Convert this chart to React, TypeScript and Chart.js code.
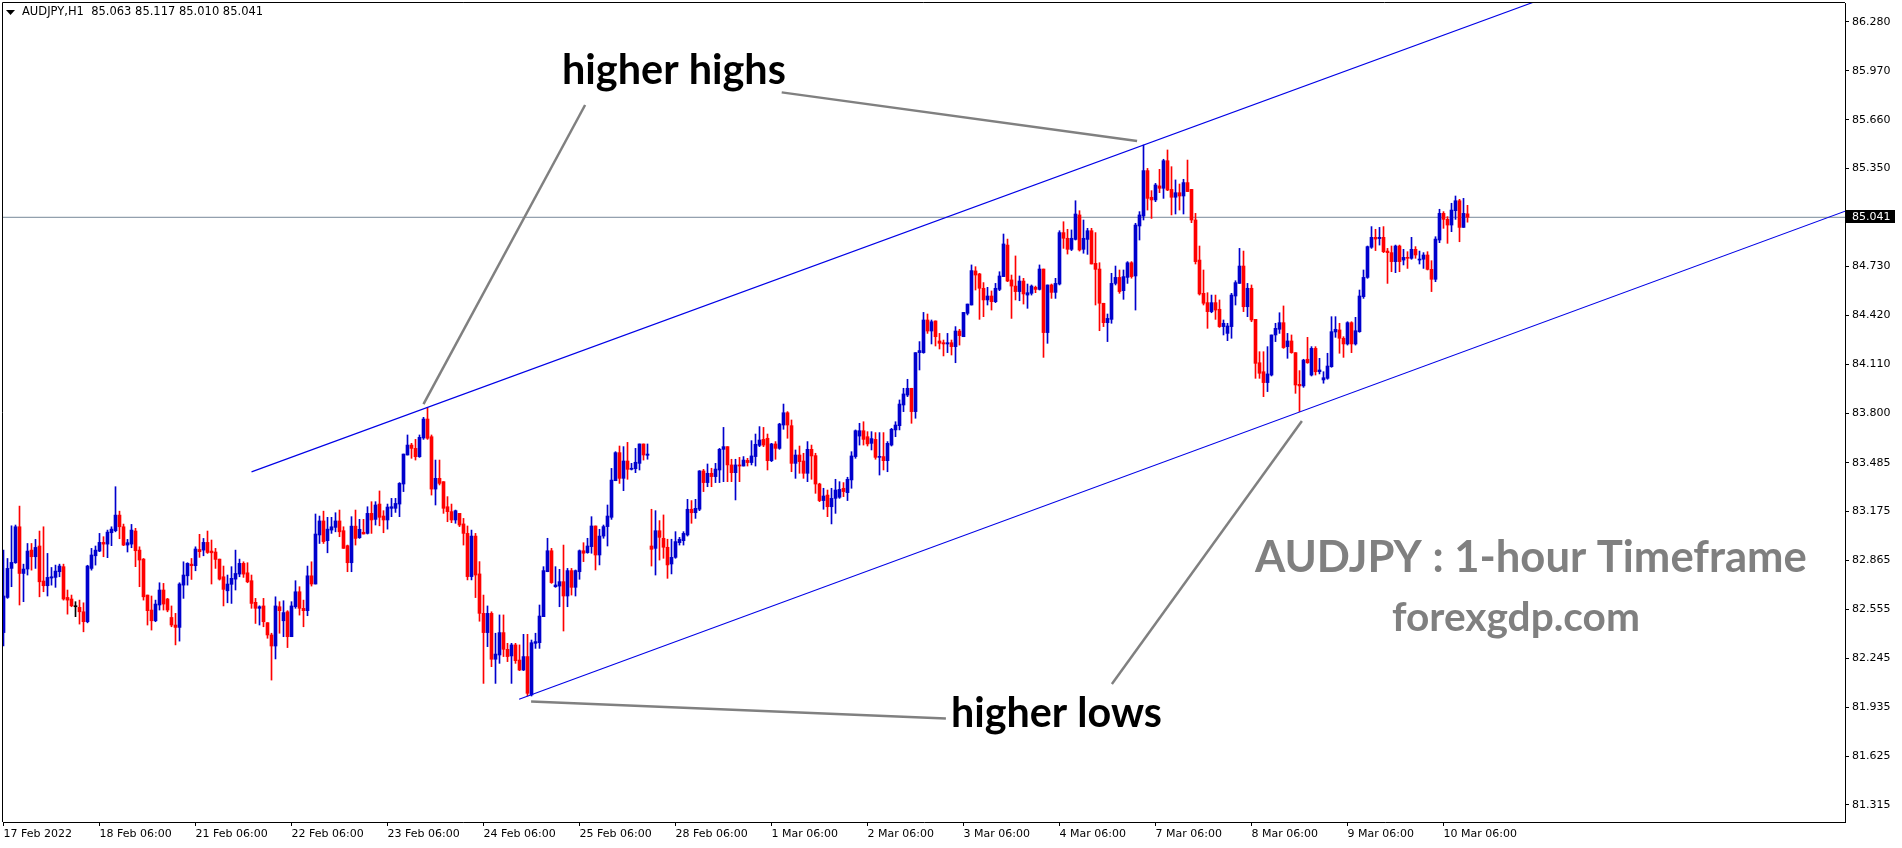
import React, { useEffect, useRef } from "react";
import { Chart, registerables } from "chart.js";

Chart.register(...registerables);

// ---- AUDJPY H1 candles (17 Feb 2022 06:00 .. 10 Mar 2022 12:00) ----
const opens = [
  82.408, 82.631, 82.815, 82.851, 83.079, 82.783, 82.811, 82.931, 82.889, 82.957,
  82.735, 82.705, 82.754, 82.758, 82.794, 82.826, 82.631, 82.621, 82.572, 82.568,
  82.540, 82.477, 82.815, 82.895, 82.925, 82.980, 82.969, 83.041, 83.054, 83.153,
  83.079, 82.963, 82.969, 83.052, 82.931, 82.874, 82.646, 82.551, 82.483, 82.583,
  82.678, 82.621, 82.504, 82.456, 82.441, 82.709, 82.768, 82.842, 82.832, 82.935,
  82.931, 82.980, 82.925, 82.919, 82.874, 82.762, 82.673, 82.714, 82.747, 82.779,
  82.847, 82.787, 82.737, 82.600, 82.562, 82.577, 82.471, 82.393, 82.323, 82.572,
  82.483, 82.540, 82.382, 82.572, 82.667, 82.562, 82.547, 82.768, 82.716, 83.027,
  83.116, 82.991, 83.058, 83.075, 83.116, 83.054, 82.959, 82.851, 83.083, 83.010,
  83.044, 83.037, 83.164, 83.126, 83.223, 83.147, 83.122, 83.196, 83.196, 83.223,
  83.350, 83.534, 83.597, 83.576, 83.523, 83.642, 83.762, 83.650, 83.318, 83.386,
  83.365, 83.206, 83.175, 83.122, 83.164, 83.097, 83.037, 82.763, 83.020, 82.780,
  82.530, 82.408, 82.530, 82.239, 82.266, 82.408, 82.302, 82.260, 82.330, 82.234,
  82.171, 82.256, 82.013, 82.340, 82.344, 82.509, 82.794, 82.927, 82.699, 82.703,
  82.731, 82.640, 82.801, 82.695, 82.794, 82.927, 82.915, 82.953, 83.084, 82.900,
  83.020, 83.080, 83.139, 83.371, 83.549, 83.386, 83.496, 83.443, 83.447, 83.481,
  83.604, 83.532, 82.957, 82.942, 83.054, 83.006, 82.949, 82.843, 82.885, 82.978,
  82.991, 83.027, 83.190, 83.168, 83.190, 83.433, 83.359, 83.418, 83.397, 83.439,
  83.570, 83.587, 83.471, 83.422, 83.471, 83.464, 83.500, 83.486, 83.524, 83.595,
  83.633, 83.640, 83.498, 83.604, 83.576, 83.724, 83.802, 83.720, 83.481, 83.534,
  83.496, 83.418, 83.570, 83.530, 83.350, 83.245, 83.280, 83.206, 83.259, 83.266,
  83.323, 83.295, 83.376, 83.524, 83.654, 83.688, 83.650, 83.608, 83.633, 83.519,
  83.524, 83.498, 83.597, 83.693, 83.720, 83.851, 83.914, 83.957, 83.809, 84.183,
  84.183, 84.390, 84.320, 84.384, 84.257, 84.246, 84.238, 84.246, 84.221, 84.320,
  84.284, 84.432, 84.485, 84.701, 84.682, 84.591, 84.517, 84.542, 84.506, 84.584,
  84.665, 84.865, 84.644, 84.605, 84.570, 84.637, 84.548, 84.559, 84.597, 84.584,
  84.713, 84.310, 84.612, 84.565, 84.618, 84.944, 84.908, 84.838, 84.901, 85.056,
  84.838, 84.901, 84.956, 84.749, 84.713, 84.496, 84.373, 84.394, 84.622, 84.660,
  84.576, 84.660, 84.753, 84.669, 84.986, 85.049, 85.337, 85.168, 85.151, 85.240,
  85.225, 85.400, 85.218, 85.168, 85.197, 85.176, 85.261, 85.218, 85.024, 84.770,
  84.559, 84.500, 84.443, 84.500, 84.458, 84.348, 84.305, 84.348, 84.542, 84.622,
  84.732, 84.474, 84.591, 84.394, 84.119, 84.062, 83.993, 84.041, 84.295, 84.331,
  84.373, 84.221, 84.257, 84.183, 83.982, 83.972, 84.141, 84.041, 84.210, 84.062,
  84.010, 84.020, 84.094, 84.314, 84.327, 84.274, 84.238, 84.373, 84.238, 84.316,
  84.538, 84.660, 84.851, 84.914, 84.906, 84.914, 84.827, 84.817, 84.760, 84.859,
  84.770, 84.787, 84.781, 84.838, 84.770, 84.775, 84.802, 84.711, 84.648, 84.897,
  85.066, 85.028, 84.992, 85.083, 85.146, 84.977, 85.063,
];

const highs = [
  82.931, 82.878, 83.085, 83.090, 83.210, 82.842, 82.973, 82.973, 82.999, 83.052,
  83.079, 82.910, 82.821, 82.836, 82.842, 82.842, 82.678, 82.646, 82.604, 82.614,
  82.597, 82.835, 82.942, 82.957, 83.037, 83.016, 83.058, 83.079, 83.333, 83.178,
  83.096, 82.999, 83.094, 83.069, 82.952, 82.878, 82.646, 82.640, 82.614, 82.724,
  82.720, 82.625, 82.577, 82.530, 82.724, 82.857, 82.851, 82.878, 82.952, 83.031,
  83.005, 83.052, 82.995, 82.942, 82.874, 82.830, 82.773, 82.826, 82.931, 82.874,
  82.857, 82.851, 82.773, 82.625, 82.578, 82.625, 82.471, 82.404, 82.635, 82.604,
  82.610, 82.547, 82.604, 82.737, 82.699, 82.614, 82.830, 82.857, 83.160, 83.147,
  83.178, 83.139, 83.139, 83.168, 83.185, 83.079, 82.963, 83.143, 83.185, 83.126,
  83.126, 83.206, 83.238, 83.238, 83.306, 83.181, 83.223, 83.259, 83.259, 83.359,
  83.540, 83.661, 83.608, 83.633, 83.661, 83.773, 83.836, 83.661, 83.502, 83.502,
  83.365, 83.270, 83.223, 83.185, 83.164, 83.132, 83.084, 83.058, 83.037, 82.858,
  82.646, 82.577, 82.540, 82.404, 82.520, 82.520, 82.340, 82.340, 82.340, 82.330,
  82.397, 82.397, 82.361, 82.404, 82.583, 82.826, 83.006, 82.942, 82.826, 82.809,
  82.963, 82.815, 82.815, 82.805, 82.932, 82.978, 83.006, 83.143, 83.084, 83.063,
  83.090, 83.217, 83.449, 83.555, 83.591, 83.587, 83.614, 83.481, 83.576, 83.604,
  83.604, 83.604, 83.190, 83.181, 83.118, 83.154, 83.000, 83.000, 83.048, 83.012,
  83.048, 83.253, 83.245, 83.253, 83.435, 83.443, 83.477, 83.450, 83.481, 83.576,
  83.709, 83.587, 83.507, 83.507, 83.519, 83.524, 83.513, 83.625, 83.667, 83.714,
  83.709, 83.667, 83.608, 83.619, 83.735, 83.857, 83.809, 83.756, 83.566, 83.591,
  83.545, 83.619, 83.597, 83.545, 83.355, 83.323, 83.312, 83.323, 83.380, 83.365,
  83.359, 83.393, 83.555, 83.693, 83.735, 83.745, 83.682, 83.682, 83.676, 83.676,
  83.676, 83.619, 83.703, 83.745, 83.883, 83.957, 84.014, 83.957, 84.183, 84.253,
  84.438, 84.428, 84.390, 84.384, 84.305, 84.263, 84.305, 84.263, 84.348, 84.331,
  84.438, 84.491, 84.739, 84.728, 84.686, 84.627, 84.597, 84.574, 84.622, 84.696,
  84.935, 84.903, 84.675, 84.796, 84.669, 84.654, 84.618, 84.612, 84.605, 84.739,
  84.713, 84.612, 84.618, 84.654, 84.956, 85.013, 84.965, 84.961, 85.146, 85.083,
  85.024, 84.971, 84.971, 84.944, 84.753, 84.496, 84.428, 84.686, 84.732, 84.707,
  84.707, 84.760, 84.760, 85.003, 85.077, 85.499, 85.351, 85.210, 85.256, 85.345,
  85.409, 85.468, 85.362, 85.278, 85.252, 85.282, 85.404, 85.218, 85.066, 84.859,
  84.707, 84.563, 84.548, 84.548, 84.517, 84.390, 84.369, 84.559, 84.639, 84.844,
  84.827, 84.622, 84.612, 84.394, 84.189, 84.189, 84.221, 84.295, 84.369, 84.436,
  84.479, 84.305, 84.295, 84.183, 84.069, 84.141, 84.280, 84.221, 84.221, 84.147,
  84.062, 84.179, 84.411, 84.411, 84.369, 84.284, 84.379, 84.379, 84.407, 84.580,
  84.707, 84.859, 84.982, 84.965, 84.977, 84.982, 84.844, 84.859, 84.865, 84.865,
  84.838, 84.823, 84.914, 84.855, 84.827, 84.817, 84.823, 84.766, 84.918, 85.092,
  85.077, 85.045, 85.130, 85.176, 85.155, 85.161, 85.117,
];

const lows = [
  82.323, 82.625, 82.699, 82.847, 82.583, 82.604, 82.773, 82.804, 82.815, 82.635,
  82.667, 82.640, 82.709, 82.695, 82.762, 82.614, 82.525, 82.572, 82.509, 82.462,
  82.413, 82.470, 82.804, 82.836, 82.921, 82.889, 82.883, 82.959, 83.047, 83.003,
  82.959, 82.919, 82.946, 82.826, 82.699, 82.614, 82.456, 82.424, 82.477, 82.551,
  82.551, 82.540, 82.445, 82.330, 82.354, 82.625, 82.709, 82.745, 82.800, 82.885,
  82.895, 82.910, 82.716, 82.815, 82.741, 82.577, 82.597, 82.593, 82.678, 82.762,
  82.758, 82.724, 82.562, 82.466, 82.456, 82.445, 82.372, 82.107, 82.241, 82.404,
  82.382, 82.313, 82.382, 82.562, 82.519, 82.445, 82.515, 82.703, 82.716, 82.973,
  82.973, 82.914, 83.037, 83.047, 83.016, 82.942, 82.794, 82.794, 82.963, 83.005,
  83.033, 83.033, 83.037, 83.090, 83.085, 83.041, 83.064, 83.143, 83.170, 83.143,
  83.302, 83.534, 83.513, 83.502, 83.519, 83.633, 83.633, 83.280, 83.217, 83.344,
  83.164, 83.111, 83.105, 83.101, 83.080, 82.963, 82.742, 82.742, 82.630, 82.480,
  82.086, 82.319, 82.192, 82.086, 82.213, 82.256, 82.224, 82.086, 82.213, 82.167,
  82.167, 82.006, 82.006, 82.308, 82.308, 82.509, 82.794, 82.720, 82.695, 82.572,
  82.418, 82.572, 82.646, 82.640, 82.746, 82.858, 82.911, 82.911, 82.805, 82.837,
  83.006, 82.957, 83.126, 83.371, 83.354, 83.308, 83.380, 83.439, 83.422, 83.439,
  83.502, 83.507, 82.830, 82.773, 82.868, 82.879, 82.752, 82.780, 82.879, 82.963,
  82.963, 83.020, 83.101, 83.132, 83.181, 83.302, 83.333, 83.333, 83.359, 83.359,
  83.365, 83.365, 83.365, 83.249, 83.365, 83.464, 83.464, 83.471, 83.464, 83.587,
  83.587, 83.439, 83.492, 83.507, 83.570, 83.697, 83.640, 83.428, 83.386, 83.418,
  83.386, 83.365, 83.380, 83.291, 83.238, 83.190, 83.143, 83.097, 83.164, 83.259,
  83.270, 83.245, 83.323, 83.513, 83.597, 83.597, 83.591, 83.566, 83.507, 83.407,
  83.439, 83.428, 83.591, 83.650, 83.693, 83.809, 83.904, 83.735, 83.767, 84.073,
  84.179, 84.305, 84.238, 84.225, 84.206, 84.162, 84.183, 84.168, 84.119, 84.231,
  84.284, 84.422, 84.485, 84.580, 84.394, 84.411, 84.485, 84.453, 84.500, 84.576,
  84.665, 84.633, 84.400, 84.517, 84.512, 84.491, 84.464, 84.548, 84.563, 84.580,
  84.153, 84.242, 84.527, 84.527, 84.612, 84.844, 84.808, 84.830, 84.897, 84.827,
  84.813, 84.806, 84.745, 84.485, 84.322, 84.348, 84.253, 84.369, 84.612, 84.559,
  84.521, 84.622, 84.655, 84.453, 84.897, 85.024, 85.087, 85.034, 85.140, 85.197,
  85.161, 85.210, 85.056, 85.062, 85.087, 85.062, 85.204, 85.007, 84.745, 84.548,
  84.485, 84.337, 84.436, 84.394, 84.343, 84.295, 84.259, 84.274, 84.485, 84.622,
  84.443, 84.411, 84.379, 84.020, 84.020, 83.904, 83.936, 84.035, 84.253, 84.305,
  84.210, 84.147, 84.179, 83.925, 83.809, 83.963, 84.115, 84.035, 84.041, 84.048,
  83.989, 84.014, 84.090, 84.280, 84.179, 84.153, 84.231, 84.183, 84.231, 84.312,
  84.527, 84.654, 84.844, 84.830, 84.865, 84.817, 84.622, 84.696, 84.690, 84.696,
  84.739, 84.717, 84.775, 84.781, 84.745, 84.717, 84.707, 84.570, 84.633, 84.880,
  84.971, 84.876, 84.950, 85.028, 84.886, 84.977, 85.010,
];

const closes = [
  82.640, 82.815, 82.853, 83.079, 82.783, 82.811, 82.925, 82.889, 82.948, 82.730,
  82.705, 82.758, 82.762, 82.798, 82.830, 82.621, 82.614, 82.578, 82.572, 82.540,
  82.477, 82.830, 82.900, 82.931, 82.980, 82.969, 83.045, 83.064, 83.153, 83.079,
  82.963, 82.978, 83.058, 82.927, 82.868, 82.635, 82.547, 82.483, 82.589, 82.678,
  82.589, 82.551, 82.456, 82.441, 82.716, 82.773, 82.847, 82.832, 82.938, 82.921,
  82.980, 82.916, 82.914, 82.872, 82.747, 82.682, 82.716, 82.752, 82.783, 82.847,
  82.779, 82.730, 82.593, 82.562, 82.572, 82.477, 82.393, 82.323, 82.577, 82.547,
  82.535, 82.382, 82.577, 82.667, 82.562, 82.547, 82.768, 82.716, 83.033, 83.116,
  82.985, 83.064, 83.079, 83.116, 83.047, 82.942, 82.851, 83.083, 83.005, 83.063,
  83.033, 83.164, 83.122, 83.217, 83.139, 83.122, 83.204, 83.206, 83.227, 83.354,
  83.540, 83.597, 83.576, 83.523, 83.646, 83.762, 83.640, 83.318, 83.386, 83.354,
  83.196, 83.175, 83.122, 83.181, 83.090, 83.037, 82.763, 83.020, 82.773, 82.530,
  82.408, 82.530, 82.239, 82.272, 82.408, 82.302, 82.256, 82.330, 82.230, 82.171,
  82.256, 82.023, 82.344, 82.351, 82.513, 82.801, 82.927, 82.725, 82.710, 82.731,
  82.640, 82.801, 82.695, 82.801, 82.927, 82.911, 82.957, 83.084, 82.900, 83.020,
  83.080, 83.147, 83.375, 83.549, 83.386, 83.496, 83.443, 83.450, 83.488, 83.604,
  83.534, 83.540, 82.936, 83.054, 83.012, 82.949, 82.837, 82.885, 82.985, 83.000,
  83.037, 83.190, 83.168, 83.196, 83.433, 83.359, 83.418, 83.397, 83.445, 83.570,
  83.587, 83.471, 83.422, 83.471, 83.464, 83.502, 83.486, 83.528, 83.602, 83.629,
  83.597, 83.498, 83.604, 83.576, 83.730, 83.802, 83.724, 83.481, 83.534, 83.492,
  83.418, 83.570, 83.528, 83.350, 83.245, 83.274, 83.206, 83.259, 83.312, 83.316,
  83.302, 83.380, 83.528, 83.688, 83.688, 83.633, 83.604, 83.638, 83.519, 83.524,
  83.498, 83.608, 83.697, 83.724, 83.857, 83.921, 83.957, 83.809, 84.183, 84.196,
  84.390, 84.320, 84.379, 84.284, 84.242, 84.238, 84.246, 84.221, 84.320, 84.291,
  84.438, 84.491, 84.703, 84.675, 84.591, 84.517, 84.542, 84.506, 84.591, 84.669,
  84.872, 84.637, 84.605, 84.570, 84.637, 84.555, 84.563, 84.605, 84.584, 84.713,
  84.310, 84.612, 84.565, 84.622, 84.944, 84.908, 84.838, 84.908, 85.062, 84.834,
  84.908, 84.956, 84.745, 84.711, 84.496, 84.373, 84.400, 84.622, 84.660, 84.570,
  84.665, 84.753, 84.665, 84.992, 85.056, 85.337, 85.161, 85.151, 85.246, 85.225,
  85.400, 85.214, 85.168, 85.197, 85.176, 85.261, 85.204, 85.024, 84.760, 84.555,
  84.496, 84.443, 84.500, 84.453, 84.348, 84.369, 84.352, 84.548, 84.627, 84.732,
  84.474, 84.591, 84.390, 84.115, 84.052, 83.993, 84.048, 84.295, 84.337, 84.373,
  84.215, 84.257, 84.183, 83.978, 83.972, 84.136, 84.119, 84.210, 84.062, 84.073,
  84.024, 84.098, 84.316, 84.331, 84.274, 84.238, 84.373, 84.238, 84.322, 84.542,
  84.660, 84.855, 84.914, 84.903, 84.914, 84.823, 84.817, 84.760, 84.859, 84.760,
  84.787, 84.781, 84.838, 84.802, 84.775, 84.802, 84.711, 84.648, 84.903, 85.066,
  85.028, 84.992, 85.087, 85.146, 84.977, 85.066, 85.041,
];

// axis ticks
const priceTicks = [86.28, 85.97, 85.66, 85.35, 84.73, 84.42, 84.11, 83.8, 83.485, 83.175, 82.865, 82.555, 82.245, 81.935, 81.625, 81.315];
const timeLabels = ["17 Feb 2022", "18 Feb 06:00", "21 Feb 06:00", "22 Feb 06:00", "23 Feb 06:00", "24 Feb 06:00", "25 Feb 06:00", "28 Feb 06:00", "1 Mar 06:00", "2 Mar 06:00", "3 Mar 06:00", "4 Mar 06:00", "7 Mar 06:00", "8 Mar 06:00", "9 Mar 06:00", "10 Mar 06:00"];
const timeLabelBars = [0, 24, 48, 72, 96, 120, 144, 168, 192, 216, 240, 264, 288, 312, 336, 360];

// drawn objects: [bar index, price]
const bidPrice = 85.041;
const upperChannel = [[62, 83.427], [460, 87.125]];
const lowerChannel = [[128.9, 81.986], [460.4, 85.080]];
const pointerLines = [
  [[105.0, 83.857], [145.4, 85.753]],
  [[194.55, 85.833], [283.4, 85.525]],
  [[131.9, 81.971], [235.6, 81.863]],
  [[277.1, 82.082], [324.6, 83.75]],
];
const symbolHeader = "AUDJPY,H1  85.063 85.117 85.010 85.041";

const BULL = "#0000cd";
const BEAR = "#ff0000";
const DOJI = "#000000";

const AXIS_FONT = { family: "'DejaVu Sans'", size: 11 };

function fitText(ctx: CanvasRenderingContext2D, text: string, x: number, baseline: number, width: number, color: string) {
  ctx.font = "bold 100px Lato";
  const w = ctx.measureText(text).width;
  const size = (100 * width) / w;
  ctx.font = `bold ${size}px Lato`;
  ctx.fillStyle = color;
  ctx.textAlign = "left";
  ctx.textBaseline = "alphabetic";
  ctx.fillText(text, x, baseline);
}

const overlayPlugin = {
  id: "mtOverlay",
  afterDraw(chart: any) {
    const { ctx, chartArea, scales } = chart;
    ctx.save();
    // frame (left & top)
    ctx.strokeStyle = "#000";
    ctx.lineWidth = 1;
    ctx.beginPath();
    ctx.moveTo(chartArea.left - 0.5, chartArea.bottom);
    ctx.lineTo(chartArea.left - 0.5, chartArea.top - 0.5);
    ctx.lineTo(chartArea.right, chartArea.top - 0.5);
    ctx.stroke();

    // header
    ctx.fillStyle = "#000";
    ctx.beginPath();
    ctx.moveTo(6, 10);
    ctx.lineTo(15, 10);
    ctx.lineTo(10.5, 15);
    ctx.closePath();
    ctx.fill();
    ctx.font = "11.5px 'DejaVu Sans'";
    ctx.textAlign = "left";
    ctx.textBaseline = "middle";
    ctx.fillText(symbolHeader, 22, 12.5);

    // bid price label
    const yb = scales.y.getPixelForValue(bidPrice);
    ctx.fillStyle = "#000";
    ctx.fillRect(chartArea.right + 1, Math.round(yb) - 7, 49, 13);
    ctx.fillStyle = "#fff";
    ctx.font = "11px 'DejaVu Sans'";
    ctx.textBaseline = "middle";
    ctx.fillText(bidPrice.toFixed(3), chartArea.right + 7, yb);

    // annotations
    fitText(ctx, "higher highs", 562, 84, 224, "#000");
    fitText(ctx, "higher lows", 951, 727, 211, "#000");
    fitText(ctx, "AUDJPY : 1-hour Timeframe", 1255, 572, 552, "#808080");
    fitText(ctx, "forexgdp.com", 1392, 631, 248, "#808080");
    ctx.restore();
  },
};

export default function App() {
  const ref = useRef<HTMLCanvasElement>(null);

  useEffect(() => {
    const canvas = ref.current;
    if (!canvas) return;
    const colors = closes.map((c, i) => (c > opens[i] ? BULL : c < opens[i] ? BEAR : DOJI));
    const wickData = highs.map((h, i) => ({ x: i, y: [lows[i], h] }));
    const bodyData = opens.map((o, i) => ({ x: i, y: [o, closes[i]] }));
    const toPts = (seg: number[][]) => seg.map(([x, y]) => ({ x, y }));

    const lineDs = (pts: any[], color: string, width: number, order: number) => ({
      type: "line" as const,
      data: pts,
      borderColor: color,
      borderWidth: width,
      pointRadius: 0,
      tension: 0,
      fill: false,
      order,
    });

    const noPad = (s: any) => {
      s.paddingTop = 0;
      s.paddingBottom = 0;
      s.paddingLeft = 0;
      s.paddingRight = 0;
    };

    const chart = new Chart(canvas, {
      type: "bar",
      data: {
        datasets: [
          lineDs(toPts(upperChannel), "#0000e6", 1.1, 0),
          lineDs(toPts(lowerChannel), "#0000e6", 1.1, 0),
          ...pointerLines.map((seg) => lineDs(toPts(seg), "#808080", 2.5, 0)),
          {
            type: "bar",
            data: bodyData as any,
            backgroundColor: colors,
            borderWidth: 0,
            barThickness: 3,
            minBarLength: 1,
            grouped: false,
            order: 2,
          },
          {
            type: "bar",
            data: wickData as any,
            backgroundColor: colors,
            borderWidth: 0,
            barThickness: 1,
            minBarLength: 1,
            grouped: false,
            order: 3,
          },
          lineDs([{ x: -1, y: bidPrice }, { x: 462, y: bidPrice }], "#778899", 1, 4),
        ] as any,
      },
      options: {
        responsive: false,
        animation: false,
        devicePixelRatio: 1,
        events: [],
        layout: { padding: { left: 3, top: 3, right: 0, bottom: 0 } },
        plugins: { legend: { display: false }, tooltip: { enabled: false }, title: { display: false } },
        scales: {
          x: {
            type: "linear",
            min: -0.125,
            max: 460.375,
            offset: false,
            afterBuildTicks: (s: any) => {
              s.ticks = timeLabelBars.map((v) => ({ value: v }));
            },
            afterFit: (s: any) => {
              s.height = 26;
              noPad(s);
            },
            ticks: {
              autoSkip: false,
              maxRotation: 0,
              minRotation: 0,
              align: "start",
              padding: 2,
              color: "#000",
              font: AXIS_FONT,
              callback: (v: any) => {
                const k = timeLabelBars.indexOf(Number(v));
                return k >= 0 ? timeLabels[k] : "";
              },
            },
            grid: { display: true, drawOnChartArea: false, drawTicks: true, tickLength: 4, color: "#000", offset: false },
            border: { display: true, color: "#000", width: 1 },
          },
          y: {
            type: "linear",
            position: "right",
            min: 81.2072,
            max: 86.3997,
            afterBuildTicks: (s: any) => {
              s.ticks = priceTicks.map((v) => ({ value: v }));
            },
            afterFit: (s: any) => {
              s.width = 57;
              noPad(s);
            },
            ticks: {
              padding: 3,
              color: "#000",
              font: AXIS_FONT,
              callback: (v: any) => Number(v).toFixed(3),
            },
            grid: { display: true, drawOnChartArea: false, drawTicks: true, tickLength: 4, color: "#000" },
            border: { display: true, color: "#000", width: 1 },
          },
        },
      } as any,
      plugins: [overlayPlugin],
    });
    return () => chart.destroy();
  }, []);

  return (
    <div style={{ position: "fixed", left: 0, top: 0, width: 1902, height: 848, background: "#fff" }}>
      <canvas ref={ref} width={1902} height={848} style={{ display: "block", width: 1902, height: 848 }} />
    </div>
  );
}
